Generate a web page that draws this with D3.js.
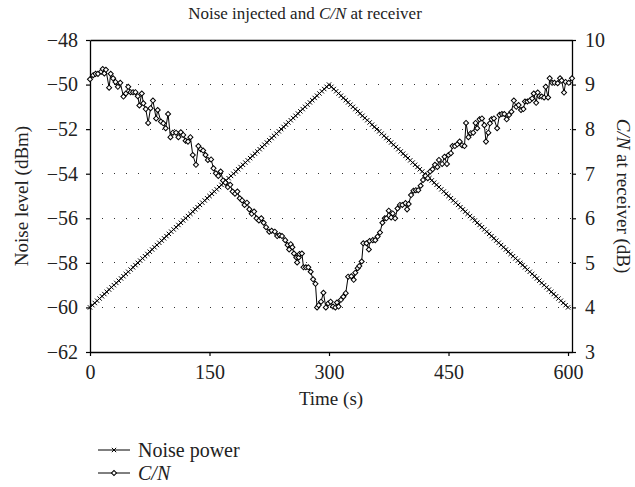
<!DOCTYPE html>
<html>
<head>
<meta charset="utf-8">
<script src="https://cdn.jsdelivr.net/npm/d3@7"></script>
<style>
  html, body { margin: 0; padding: 0; background: #fff; }
  svg { display: block; }
  text { font-family: "Liberation Serif", "DejaVu Serif", serif; fill: #222; }
</style>
</head>
<body>
<svg id="chart" width="635" height="487"></svg>
<script>
// ---------------- DATA ----------------
const xTicks = [0, 150, 300, 450, 600];
const yLeftTicks = [-62, -60, -58, -56, -54, -52, -50, -48];
const yRightTicks = [3, 4, 5, 6, 7, 8, 9, 10];
const gridLevels = [-60, -58, -56, -54, -52, -50];

const noiseTime = [0,3,6,9,12,15,18,21,24,27,30,33,36,39,42,45,48,51,54,57,60,63,66,69,72,75,78,81,84,87,90,93,96,99,102,105,108,111,114,117,120,123,126,129,132,135,138,141,144,147,150,153,156,159,162,165,168,171,174,177,180,183,186,189,192,195,198,201,204,207,210,213,216,219,222,225,228,231,234,237,240,243,246,249,252,255,258,261,264,267,270,273,276,279,282,285,288,291,294,297,300,303,306,309,312,315,318,321,324,327,330,333,336,339,342,345,348,351,354,357,360,363,366,369,372,375,378,381,384,387,390,393,396,399,402,405,408,411,414,417,420,423,426,429,432,435,438,441,444,447,450,453,456,459,462,465,468,471,474,477,480,483,486,489,492,495,498,501,504,507,510,513,516,519,522,525,528,531,534,537,540,543,546,549,552,555,558,561,564,567,570,573,576,579,582,585,588,591,594,597,600];
const noisePower = [-60,-59.9,-59.8,-59.7,-59.6,-59.5,-59.4,-59.3,-59.2,-59.1,
 -59,-58.9,-58.8,-58.7,-58.6,-58.5,-58.4,-58.3,-58.2,-58.1,
 -58,-57.9,-57.8,-57.7,-57.6,-57.5,-57.4,-57.3,-57.2,-57.1,
 -57,-56.9,-56.8,-56.7,-56.6,-56.5,-56.4,-56.3,-56.2,-56.1,
 -56,-55.9,-55.8,-55.7,-55.6,-55.5,-55.4,-55.3,-55.2,-55.1,
 -55,-54.9,-54.8,-54.7,-54.6,-54.5,-54.4,-54.3,-54.2,-54.1,
 -54,-53.9,-53.8,-53.7,-53.6,-53.5,-53.4,-53.3,-53.2,-53.1,
 -53,-52.9,-52.8,-52.7,-52.6,-52.5,-52.4,-52.3,-52.2,-52.1,
 -52,-51.9,-51.8,-51.7,-51.6,-51.5,-51.4,-51.3,-51.2,-51.1,
 -51,-50.9,-50.8,-50.7,-50.6,-50.5,-50.4,-50.3,-50.2,-50.1,
 -50,
 -50.1,-50.2,-50.3,-50.4,-50.5,-50.6,-50.7,-50.8,-50.9,-51,
 -51.1,-51.2,-51.3,-51.4,-51.5,-51.6,-51.7,-51.8,-51.9,-52,
 -52.1,-52.2,-52.3,-52.4,-52.5,-52.6,-52.7,-52.8,-52.9,-53,
 -53.1,-53.2,-53.3,-53.4,-53.5,-53.6,-53.7,-53.8,-53.9,-54,
 -54.1,-54.2,-54.3,-54.4,-54.5,-54.6,-54.7,-54.8,-54.9,-55,
 -55.1,-55.2,-55.3,-55.4,-55.5,-55.6,-55.7,-55.8,-55.9,-56,
 -56.1,-56.2,-56.3,-56.4,-56.5,-56.6,-56.7,-56.8,-56.9,-57,
 -57.1,-57.2,-57.3,-57.4,-57.5,-57.6,-57.7,-57.8,-57.9,-58,
 -58.1,-58.2,-58.3,-58.4,-58.5,-58.6,-58.7,-58.8,-58.9,-59,
 -59.1,-59.2,-59.3,-59.4,-59.5,-59.6,-59.7,-59.8,-59.9,-60];

const cnTime = [0,4,7,10,14,16,18,20,24,26,29,32,35,38,42,45,48,51,54,57,60,62,65,67,70,73,76,79,83,85,89,92,95,98,101,104,108,111,114,117,120,123,126,129,133,136,139,142,145,148,152,155,158,
 161,164,167,170,173,176,179,182,185,188,191,194,197,200,203,206,209,212,215,218,221,
 225,228,232,235,238,241,245,248,250,252,254,256,259,260,262,263,266,268,271,274,277,280,283,285,287,290,293,296,299,302,305,308,
 310,312,315,318,321,324,328,331,333,336,338,341,343,347,350,351,355,358,361,364,367,370,372,375,378,380,383,386,389,392,396,398,400,403,406,409,412,415,418,
 421,424,427,430,433,436,
 438,442,445,448,450,453,455,458,461,464,467,470,472,475,478,481,484,486,489,492,495,497,500,502,504,507,511,514,517,520,523,526,529,532,535,538,541,544,546,549,552,555,557,560,562,564,567,570,572,575,577,580,583,587,590,592,595,597,601,605];
const cnValue = [9.12,9.21,9.24,9.24,9.29,9.35,9.25,9.33,8.93,9.24,9.14,9.06,8.95,9.04,8.73,8.80,8.95,8.83,8.83,8.83,8.74,8.53,8.80,8.58,8.45,8.14,8.47,8.64,8.24,8.43,8.17,8.13,8.02,8.34,7.82,7.92,7.92,7.82,7.93,7.87,7.74,7.72,7.82,7.42,7.20,7.62,7.55,7.52,7.42,7.31,7.32,7.12,7.01,
 6.95,7.05,6.85,6.80,6.70,6.75,6.60,6.55,6.60,6.45,6.40,6.30,6.35,6.20,6.10,6.15,6.00,5.95,6.00,5.90,5.80,
 5.70,5.72,5.70,5.60,5.62,5.60,5.51,5.40,5.30,5.42,5.35,5.21,5.12,5.01,5.12,5.20,5.21,4.90,4.90,4.90,4.80,4.63,4.53,4.00,4.05,4.13,4.33,4.00,4.09,4.13,4.02,4.00,
 4.11,4.02,4.17,4.24,4.32,4.69,4.70,4.62,4.78,4.88,4.93,5.03,5.44,5.44,5.30,5.49,5.51,5.51,5.59,5.68,5.90,6.00,6.00,6.17,6.02,6.11,6.00,6.22,6.30,6.30,6.34,6.20,6.32,6.52,6.62,6.63,6.63,6.73,6.86,
 6.95,6.90,7.05,7.10,7.20,7.15,
 7.31,7.22,7.38,7.22,7.42,7.46,7.62,7.62,7.66,7.72,7.64,7.62,8.14,7.82,7.91,7.92,8.14,8.02,8.22,8.24,8.09,7.72,7.92,8.13,8.22,8.24,8.02,8.32,8.34,8.34,8.22,8.32,8.39,8.64,8.50,8.54,8.43,8.45,8.62,8.62,8.64,8.69,8.80,8.59,8.82,8.74,8.73,8.71,8.95,8.71,9.14,9.04,9.04,9.03,9.14,9.09,8.82,9.06,9.04,9.14];

// ---------------- LAYOUT ----------------
const L = 90, R = 572, T = 40, B = 352;
const svg = d3.select("#chart");
const x = d3.scaleLinear().domain([0, 605]).range([L, R]);
const yL = d3.scaleLinear().domain([-62, -48]).range([B, T]);
const yR = d3.scaleLinear().domain([3, 10]).range([B, T]);

const TICK_FS = 20, LABEL_FS = 19, LEG_FS = 20, TITLE_FS = 17;

// grid
svg.append("g").selectAll("line").data(gridLevels).join("line")
  .attr("x1", L).attr("x2", R)
  .attr("y1", d => yL(d)).attr("y2", d => yL(d))
  .attr("stroke", "#333").attr("stroke-width", 1)
  .attr("stroke-dasharray", "1.2 10.8")
  .attr("shape-rendering", "crispEdges");

// axes
const fmt = d3.format("d");
const axL = svg.append("g").attr("transform", `translate(${L},0)`)
  .call(d3.axisLeft(yL).tickValues(yLeftTicks).tickFormat(fmt).tickSize(4).tickPadding(8).tickSizeOuter(0));
const axR = svg.append("g").attr("transform", `translate(${R},0)`)
  .call(d3.axisRight(yR).tickValues(yRightTicks).tickFormat(fmt).tickSize(4).tickPadding(9).tickSizeOuter(0));
const axB = svg.append("g").attr("transform", `translate(0,${B})`)
  .call(d3.axisBottom(x).tickValues(xTicks).tickFormat(fmt).tickSize(4).tickPadding(9).tickSizeOuter(0));
const axT = svg.append("g").attr("transform", `translate(0,${T})`)
  .call(d3.axisTop(x).tickValues([]).tickSizeOuter(0));
[axL, axR, axB, axT].forEach(g => {
  g.selectAll("path.domain").attr("stroke", "#000").attr("stroke-width", 1.3);
  g.selectAll(".tick line").attr("stroke", "#000").attr("stroke-width", 1.2);
  g.selectAll(".tick text").attr("font-size", TICK_FS).attr("fill", "#222")
    .style("font-family", '"Liberation Serif", serif');
});

// noise power line
const noiseData = noiseTime.map((t, i) => [t, noisePower[i]]);
svg.append("path").datum(noiseData)
  .attr("fill", "none").attr("stroke", "#000").attr("stroke-width", 1)
  .attr("d", d3.line().x(d => x(d[0])).y(d => yL(d[1])));
const cross = d3.symbol().type(d3.symbolTimes).size(14);
svg.append("g").selectAll("path").data(noiseData).join("path")
  .attr("transform", d => `translate(${x(d[0])},${yL(d[1])})`)
  .attr("d", cross).attr("fill", "none").attr("stroke", "#000").attr("stroke-width", 1);

// C/N line
const cnData = cnTime.map((t, i) => [t, cnValue[i]]);
svg.append("path").datum(cnData)
  .attr("fill", "none").attr("stroke", "#000").attr("stroke-width", 1)
  .attr("d", d3.line().x(d => x(d[0])).y(d => yR(d[1])));
const diamond = d3.symbol().type(d3.symbolSquare).size(13);
svg.append("g").selectAll("path").data(cnData).join("path")
  .attr("transform", d => `translate(${x(d[0])},${yR(d[1])}) rotate(45)`)
  .attr("d", diamond).attr("fill", "#fff").attr("stroke", "#000").attr("stroke-width", 1);

// title
const title = svg.append("text").attr("x", 305).attr("y", 19)
  .attr("text-anchor", "middle").attr("font-size", TITLE_FS);
title.append("tspan").text("Noise injected and ");
title.append("tspan").attr("font-style", "italic").text("C/N");
title.append("tspan").text(" at receiver");

// axis titles
svg.append("text").attr("transform", `translate(28,${(T + B) / 2}) rotate(-90)`)
  .attr("text-anchor", "middle").attr("font-size", LABEL_FS).text("Noise level (dBm)");
const rt = svg.append("text").attr("transform", `translate(617,${(T + B) / 2}) rotate(90)`)
  .attr("text-anchor", "middle").attr("font-size", LABEL_FS);
rt.append("tspan").attr("font-style", "italic").text("C/N");
rt.append("tspan").text(" at receiver (dB)");

svg.append("text").attr("x", (L + R) / 2).attr("y", 405)
  .attr("text-anchor", "middle").attr("font-size", LABEL_FS).text("Time (s)");

// legend
const legend = [
  { label: "Noise power", italic: false, sym: "cross", y: 450 },
  { label: "C/N", italic: true, sym: "diamond", y: 473 }
];
const lg = svg.append("g");
legend.forEach(d => {
  lg.append("line").attr("x1", 98).attr("x2", 130).attr("y1", d.y).attr("y2", d.y)
    .attr("stroke", "#000").attr("stroke-width", 1);
  if (d.sym === "cross") {
    lg.append("path").attr("transform", `translate(114,${d.y})`).attr("d", cross)
      .attr("fill", "none").attr("stroke", "#000");
  } else {
    lg.append("path").attr("transform", `translate(114,${d.y}) rotate(45)`).attr("d", diamond)
      .attr("fill", "#fff").attr("stroke", "#000");
  }
  lg.append("text").attr("x", 138).attr("y", d.y + 7).attr("font-size", LEG_FS)
    .attr("font-style", d.italic ? "italic" : "normal").text(d.label);
});
</script>
</body>
</html>
